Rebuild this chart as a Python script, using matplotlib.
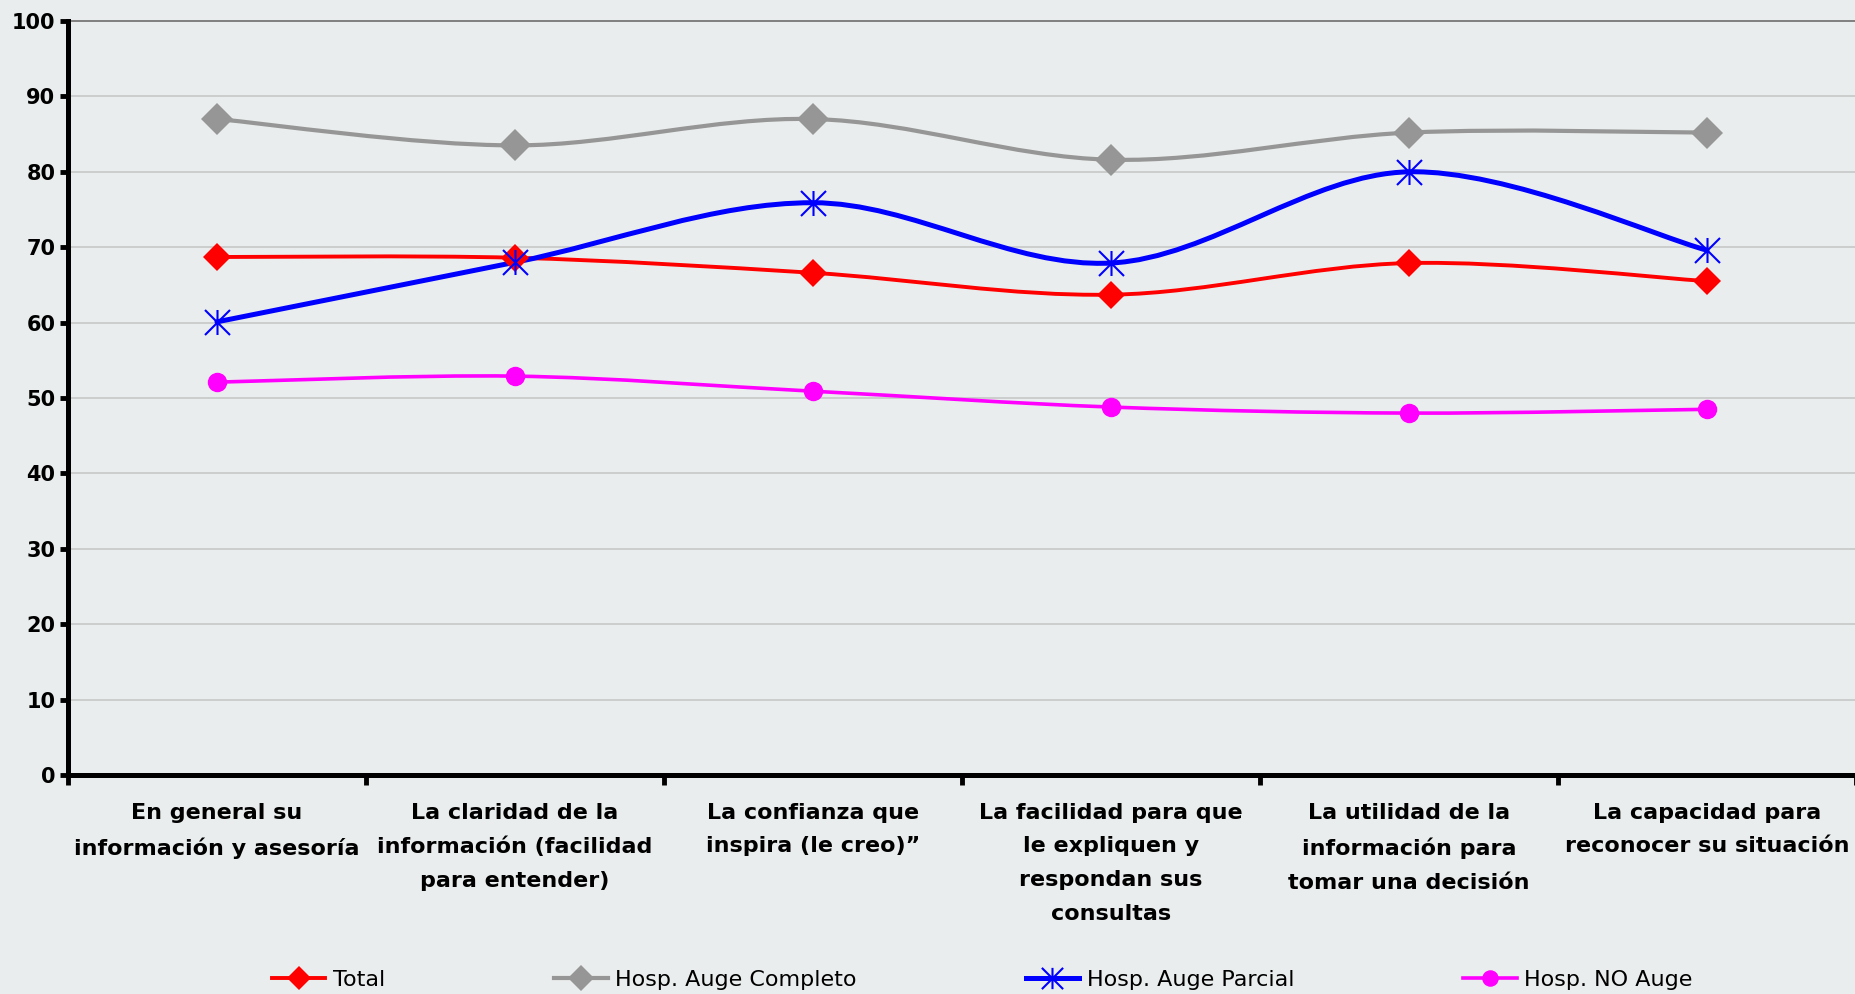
import matplotlib
matplotlib.use("Agg")
import matplotlib.pyplot as plt
import numpy as np
from matplotlib.path import Path
from matplotlib.patches import PathPatch
from matplotlib.lines import Line2D

categories = [
    "En general su\ninformación y asesoría",
    "La claridad de la\ninformación (facilidad\npara entender)",
    "La confianza que\ninspira (le creo)\u201d",
    "La facilidad para que\nle expliquen y\nrespondan sus\nconsultas",
    "La utilidad de la\ninformación para\ntomar una decisión",
    "La capacidad para\nreconocer su situación",
]
series_names = ["Total", "Hosp. Auge Completo", "Hosp. Auge Parcial", "Hosp. NO Auge"]
total = [68.7, 68.6, 66.6, 63.7, 67.9, 65.5]
auge_completo = [87.0, 83.5, 87.0, 81.6, 85.2, 85.2]
auge_parcial = [60.1, 68.0, 75.9, 67.9, 80.0, 69.6]
no_auge = [52.1, 52.9, 50.9, 48.8, 48.0, 48.5]
y_ticks = list(range(0, 101, 10))

# star marker: vertical bar plus an X
star = Path([(0, -1), (0, 1), (-1, -1), (1, 1), (-1, 1), (1, -1)],
            [Path.MOVETO, Path.LINETO] * 3)

styles = [
    dict(color="#ff0000", lw=2.8, marker="D", ms=14.5, mew=0),
    dict(color="#969696", lw=3.0, marker="D", ms=16, mew=0),
    dict(color="#0000ff", lw=3.6, marker=star, ms=18, mew=1.5),
    dict(color="#ff00ff", lw=2.6, marker="o", ms=14, mew=0),
]


def smooth_path(xs, ys):
    # Excel-like smoothed line: cubic bezier through the data points
    pts = np.column_stack([xs, ys]).astype(float)
    n = len(pts)
    verts = [pts[0]]
    codes = [Path.MOVETO]
    for i in range(n - 1):
        p0 = pts[max(i - 1, 0)]
        p1 = pts[i]
        p2 = pts[i + 1]
        p3 = pts[min(i + 2, n - 1)]
        c1 = p1 + (p2 - p0) / 6.0
        c2 = p2 - (p3 - p1) / 6.0
        verts += [c1, c2, p2]
        codes += [Path.CURVE4] * 3
    return Path(verts, codes)


plt.rcParams["font.family"] = ["DejaVu Sans"]
bg = "#eaeded"
fig = plt.figure(figsize=(18.56, 9.94), dpi=100, facecolor=bg)
ax = fig.add_axes([68 / 1856, 1 - 775 / 994, 1 - 68 / 1856, (775 - 21) / 994])
ax.set_facecolor(bg)

xs = np.arange(len(categories)) + 0.5
handles = []
for vals, st, name in zip([total, auge_completo, auge_parcial, no_auge], styles, series_names):
    ax.add_patch(PathPatch(smooth_path(xs, vals), fill=False, edgecolor=st["color"],
                           lw=st["lw"], zorder=3, capstyle="round"))
    ax.plot(xs, vals, linestyle="none", marker=st["marker"], ms=st["ms"],
            color=st["color"], mec=st["color"], mew=st["mew"], zorder=4)
    handles.append(Line2D([], [], color=st["color"], lw=st["lw"], marker=st["marker"],
                          ms=st["ms"] * 0.85, mec=st["color"], mew=st["mew"]))

ax.set_xlim(0, len(categories))
ax.set_ylim(0, 100)
ax.set_yticks(y_ticks)
ax.set_yticklabels([str(t) for t in y_ticks], fontsize=15, fontweight="bold")
ax.yaxis.grid(True, color="#c4c4c4", lw=1.1)
ax.set_axisbelow(True)

ax.set_xticks(np.arange(len(categories) + 1))
ax.set_xticklabels([])
ax.set_xticks(xs, minor=True)
ax.set_xticklabels(categories, minor=True, fontsize=16, fontweight="bold", linespacing=1.85)
ax.tick_params(axis="x", which="minor", length=0, pad=20)
ax.tick_params(axis="x", which="major", length=7, width=3.5, color="black")
ax.tick_params(axis="y", length=6, width=3.5, color="black", pad=3)

for s in ["left", "bottom"]:
    ax.spines[s].set_linewidth(3.6)
    ax.spines[s].set_color("black")
    ax.spines[s].set_zorder(5)
for s in ["top", "right"]:
    ax.spines[s].set_linewidth(1.4)
    ax.spines[s].set_color("#808080")

fig.legend(handles, series_names, loc="center left", bbox_to_anchor=(272 / 1856, 1 - 980 / 994),
           ncol=4, frameon=False, fontsize=16, handlelength=2.4, handletextpad=0.35,
           columnspacing=7.6, borderpad=0, borderaxespad=0)

fig.savefig("out.png", dpi=100, facecolor=bg)
